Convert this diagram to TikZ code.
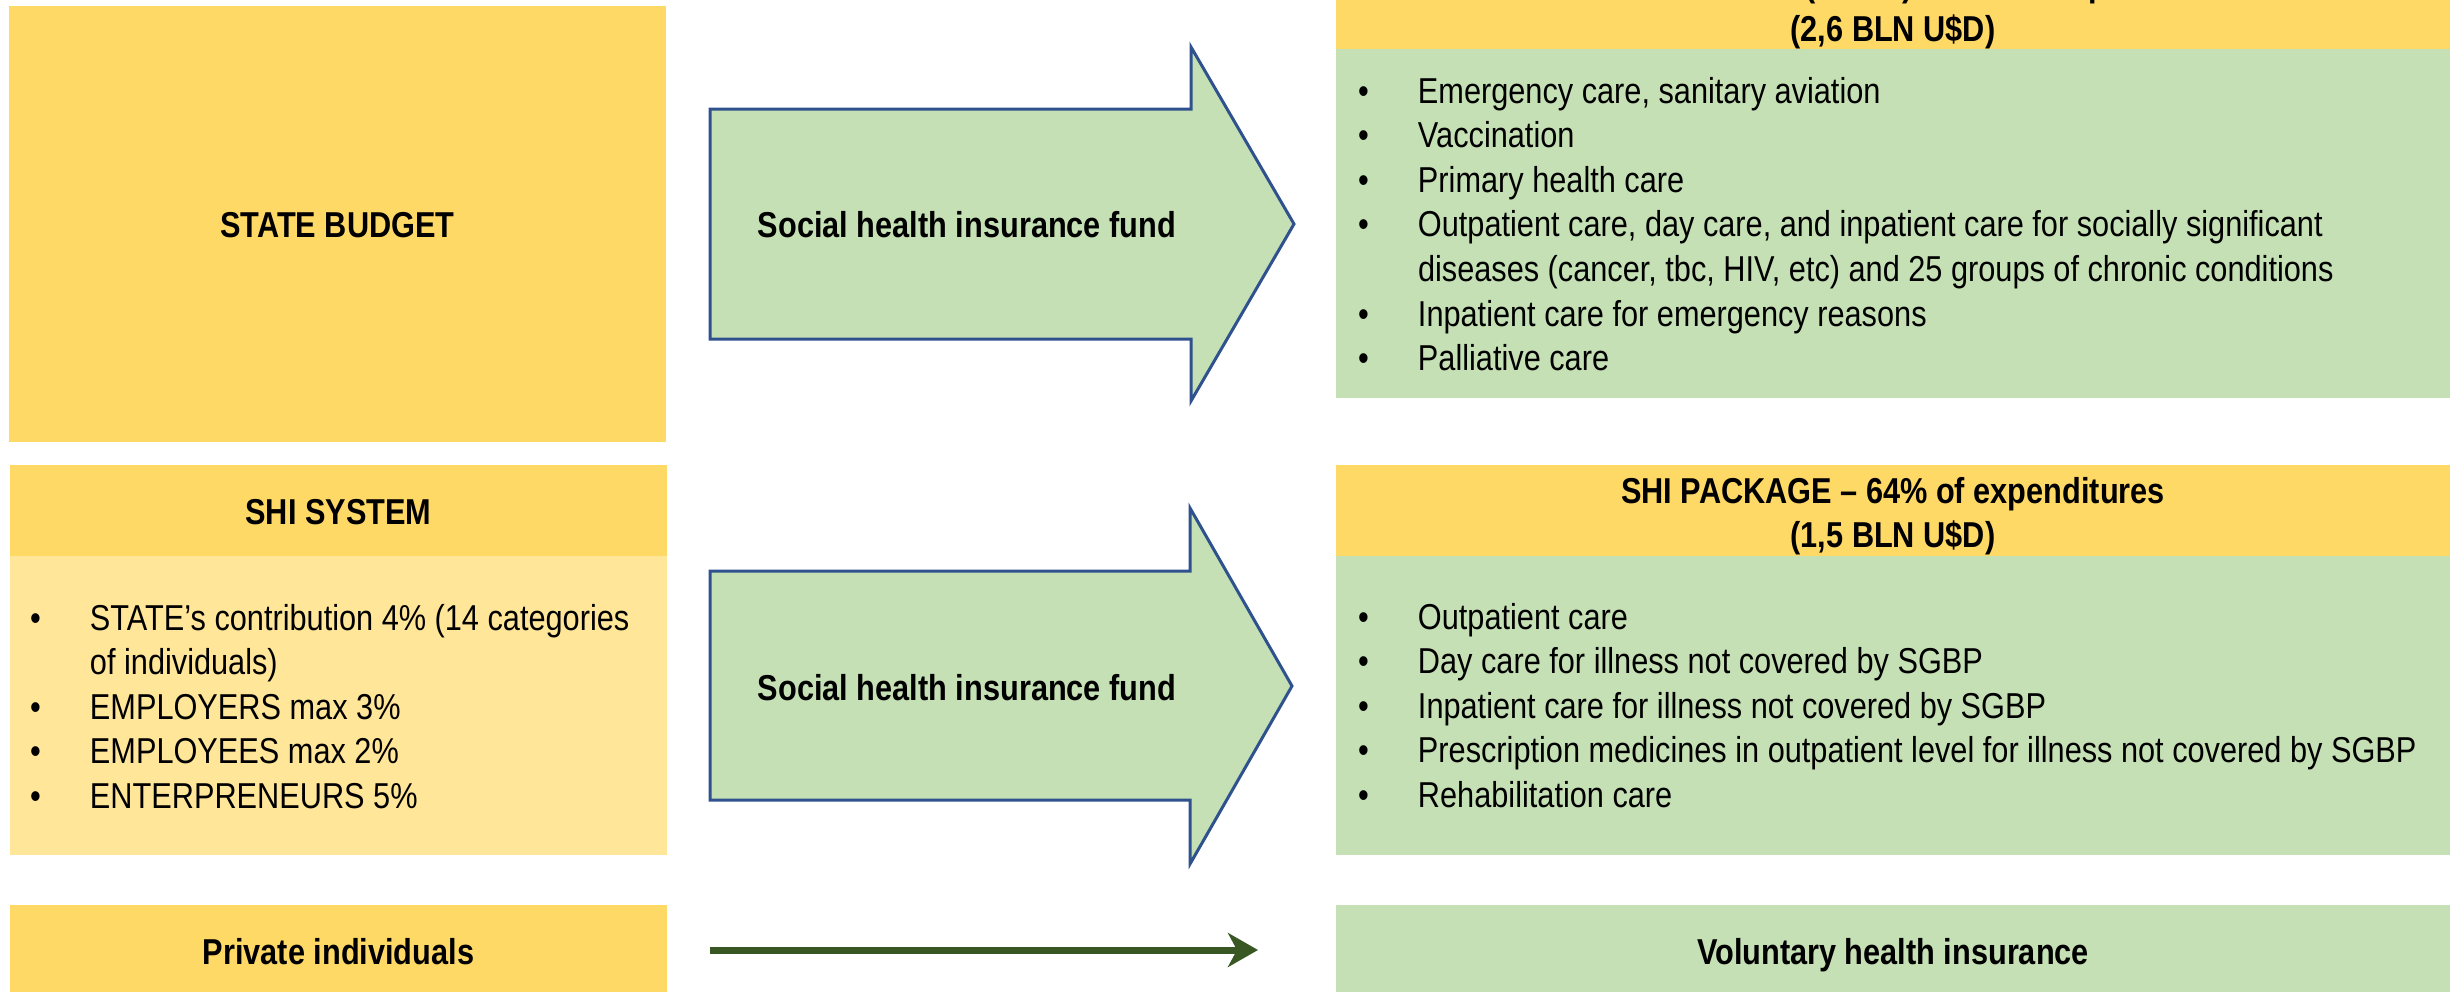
\documentclass[tikz,border=0pt]{standalone}
\usepackage{fontspec}
\setmainfont{Liberation Sans}[FakeStretch=0.853]
\usetikzlibrary{arrows.meta}

\definecolor{gold}{HTML}{FFD966}
\definecolor{goldlight}{HTML}{FFE699}
\definecolor{greenlight}{HTML}{C5E0B4}
\definecolor{arrowblue}{HTML}{2F528F}
\definecolor{darkgreen}{HTML}{385723}

% bullet with fixed hanging indent, and the matching indent for wrapped lines
\newcommand{\bul}{\makebox[60pt][l]{•}}
\newcommand{\contline}{\hspace*{60pt}}
% fixes the height of a first line so the top of a text block is predictable
\newcommand{\firststrut}{\rule{0pt}{30pt}}

\tikzset{
  panel/.style={draw=none, inner sep=0pt, outer sep=0pt},
  bodytext/.style={inner sep=0pt, outer sep=0pt, font=\fontsize{36}{44.6}\selectfont},
  boldtext/.style={inner sep=0pt, outer sep=0pt, font=\fontsize{36}{44.6}\selectfont\bfseries},
  listtext/.style={bodytext, align=left, anchor=north west},
  blockarrow/.style={draw=arrowblue, line width=3pt, fill=greenlight, line join=miter},
  flowline/.style={draw=darkgreen, line width=7pt,
    -{Stealth[length=30pt, width=34pt, inset=9pt]}}
}

\begin{document}
\begin{tikzpicture}[x=1pt, y=-1pt]
\useasboundingbox (0,0) rectangle (2450,991);
\clip (0,0) rectangle (2450,991);

% ---------- left column: sources of funds ----------
\node[panel, fill=gold, minimum width=657pt, minimum height=436pt] (budget) at (337.5,224) {};
\node[boldtext, anchor=base] (budgetlabel) at (337.5,237) {STATE BUDGET};

\node[panel, fill=gold, minimum width=657pt, minimum height=91pt] (shihead) at (338.5,510.5) {};
\node[panel, fill=goldlight, minimum width=657pt, minimum height=299pt] (shibody) at (338.5,705.5) {};
\node[boldtext, anchor=base] (shilabel) at (338.5,524) {SHI SYSTEM};
\node[listtext] (shilist) at (30,600) {\firststrut\bul STATE’s contribution 4\% (14 categories\\
\contline of individuals)\\
\bul EMPLOYERS max 3\%\\
\bul EMPLOYEES max 2\%\\
\bul ENTERPRENEURS 5\%};

\node[panel, fill=gold, minimum width=657pt, minimum height=90pt] (priv) at (338.5,950) {};
\node[boldtext, anchor=base] (privlabel) at (338.5,964) {Private individuals};

% ---------- right column: benefit packages ----------
\node[panel, fill=gold, minimum width=1119pt, minimum height=109pt] (sgbphead) at (1895.5,-5.5) {};
\node[panel, fill=greenlight, minimum width=1119pt, minimum height=349pt] (sgbpbody) at (1895.5,223.5) {};
\node[boldtext, align=center, anchor=north] (sgbplabel) at (1893,-33.6)
  {\firststrut STATE PACKAGE (SGBP) – 36\% of expenditures\\(2,6 BLN U\$D)};
\node[listtext] (sgbplist) at (1358,73) {\firststrut\bul Emergency care, sanitary aviation\\
\bul Vaccination\\
\bul Primary health care\\
\bul Outpatient care, day care, and inpatient care for socially significant\\
\contline diseases (cancer, tbc, HIV, etc) and 25 groups of chronic conditions\\
\bul Inpatient care for emergency reasons\\
\bul Palliative care};

\node[panel, fill=gold, minimum width=1119pt, minimum height=91pt] (pkghead) at (1895.5,510.5) {};
\node[panel, fill=greenlight, minimum width=1119pt, minimum height=299pt] (pkgbody) at (1895.5,705.5) {};
\node[boldtext, align=center, anchor=north] (pkglabel) at (1893,473)
  {\firststrut SHI PACKAGE – 64\% of expenditures\\(1,5 BLN U\$D)};
\node[listtext] (pkglist) at (1358,599) {\firststrut\bul Outpatient care\\
\bul Day care for illness not covered by SGBP\\
\bul Inpatient care for illness not covered by SGBP\\
\bul Prescription medicines in outpatient level for illness not covered by SGBP\\
\bul Rehabilitation care};

\node[panel, fill=greenlight, minimum width=1119pt, minimum height=90pt] (vol) at (1895.5,950) {};
\node[boldtext, anchor=base] (vollabel) at (1893,964) {Voluntary health insurance};

% ---------- block arrows: social health insurance fund ----------
\draw[blockarrow] (710,109) -- (1191,109) -- (1191,47) -- (1294,224)
  -- (1191,401) -- (1191,339) -- (710,339) -- cycle;
\node[boldtext, anchor=base] (fundtop) at (967,237) {Social health insurance fund};

\draw[blockarrow] (710,571) -- (1190,571) -- (1190,508) -- (1292,686)
  -- (1190,864) -- (1190,800) -- (710,800) -- cycle;
\node[boldtext, anchor=base] (fundbottom) at (967,700) {Social health insurance fund};

% ---------- voluntary insurance flow ----------
\draw[flowline] ([xshift=43pt]priv.east) -- ([xshift=-78pt]vol.west);
\end{tikzpicture}
\end{document}
